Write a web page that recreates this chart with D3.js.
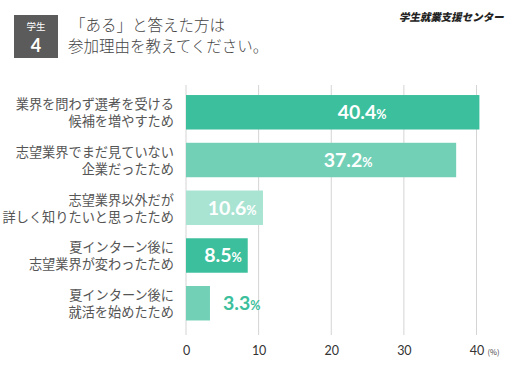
<!DOCTYPE html>
<html>
<head>
<meta charset="utf-8">
<script src="https://cdn.jsdelivr.net/npm/d3@7"></script>
<style>
  html, body { margin: 0; padding: 0; background: #fff; }
  svg { display: block; }
</style>
</head>
<body>
<div id="chart"></div>
<script>
const W = 516;
const H = 377;

// reasons (two lines each), top to bottom
const categories = [
  ["業界を問わず選考を受ける", "候補を増やすため"],
  ["志望業界でまだ見ていない", "企業だったため"],
  ["志望業界以外だが", "詳しく知りたいと思ったため"],
  ["夏インターン後に", "志望業界が変わったため"],
  ["夏インターン後に", "就活を始めたため"],
];
const values = [40.4, 37.2, 10.6, 8.5, 3.3];
const barColors = ["#3bbf9c", "#72d0b7", "#a9e4d3", "#3bbf9c", "#72d0b7"];
const xTicks = [0, 10, 20, 30, 40];

const svg = d3.select("#chart").append("svg")
  .attr("width", W)
  .attr("height", H)
  .attr("viewBox", `0 0 ${W} ${H}`);

// ── header ────────────────────────────────────────────────
svg.append("rect")
  .attr("x", 14).attr("y", 15)
  .attr("width", 44).attr("height", 43)
  .attr("fill", "#5b5b5b");
svg.append("text")
  .attr("x", 36).attr("y", 30)
  .attr("text-anchor", "middle")
  .attr("font-family", "'Noto Sans CJK JP', sans-serif")
  .attr("font-size", 9.5)
  .attr("fill", "#fff")
  .text("学生");
svg.append("text")
  .attr("x", 36).attr("y", 52)
  .attr("text-anchor", "middle")
  .attr("font-family", "Lato, 'Noto Sans', sans-serif")
  .attr("font-weight", 700)
  .attr("font-size", 18)
  .attr("fill", "#fff")
  .text("4");

const title = svg.append("text")
  .attr("font-family", "'Noto Sans CJK JP', sans-serif")
  .attr("font-size", 15.5)
  .attr("font-weight", 300)
  .attr("fill", "#444");
title.append("tspan").attr("x", 70).attr("y", 31).text("「ある」と答えた方は");
title.append("tspan").attr("x", 68).attr("y", 52).text("参加理由を教えてください。");

svg.append("text")
  .attr("x", 504).attr("y", 21)
  .attr("text-anchor", "end")
  .attr("font-family", "'Noto Sans CJK JP', sans-serif")
  .attr("font-size", 10.5)
  .attr("font-weight", 900)
  .attr("fill", "#222")
  .attr("transform", "skewX(-12) translate(4.3,0)")
  .text("学生就業支援センター");

// ── scales ────────────────────────────────────────────────
const x = d3.scaleLinear().domain([0, 40]).range([186, 476.5]);
const y = d3.scaleBand()
  .domain(d3.range(values.length))
  .range([88.4, 327.1])
  .paddingInner(0.278)
  .paddingOuter(0.139);

// gridlines
svg.append("g")
  .selectAll("line")
  .data(xTicks)
  .join("line")
  .attr("x1", (d) => x(d)).attr("x2", (d) => x(d))
  .attr("y1", 85).attr("y2", 335)
  .attr("stroke", "#d4d4d4")
  .attr("stroke-width", 1);

// x axis labels
const axis = svg.append("g")
  .attr("transform", "translate(0,355)")
  .call(d3.axisBottom(x).tickValues(xTicks).tickSize(0).tickPadding(0));
axis.select(".domain").remove();
axis.selectAll("text")
  .attr("dy", 0)
  .attr("font-family", "Lato, 'Noto Sans', sans-serif")
  .attr("font-size", 12.5)
  .attr("fill", "#333");
svg.append("text")
  .attr("x", x(40) + 11).attr("y", 355)
  .attr("font-family", "'Noto Sans CJK JP', sans-serif")
  .attr("font-size", 7.5)
  .attr("fill", "#444")
  .text("(%)");

// bars
svg.append("g")
  .selectAll("rect")
  .data(values)
  .join("rect")
  .attr("x", x(0))
  .attr("y", (d, i) => y(i))
  .attr("width", (d) => x(d) - x(0))
  .attr("height", y.bandwidth())
  .attr("fill", (d, i) => barColors[i]);

// value labels
const labels = svg.append("g")
  .selectAll("text")
  .data(values)
  .join("text")
  .attr("x", (d) => d < 5 ? x(d) + 13 : x(d * 0.6))
  .attr("y", (d, i) => y(i) + y.bandwidth() / 2 + 7)
  .attr("text-anchor", (d) => d < 5 ? "start" : "middle")
  .attr("font-family", "Lato, 'Noto Sans', sans-serif")
  .attr("font-weight", 700)
  .attr("font-size", 19.5)
  .attr("fill", (d, i) => d < 5 ? barColors[0] : "#fff");
labels.append("tspan").text((d) => d.toFixed(1));
labels.append("tspan").attr("font-size", 12.5).text("%");

// category labels
const cat = svg.append("g")
  .selectAll("text")
  .data(categories)
  .join("text")
  .attr("text-anchor", "end")
  .attr("font-family", "'Noto Sans CJK JP', sans-serif")
  .attr("font-size", 13.2)
  .attr("fill", "#555");
cat.append("tspan")
  .attr("x", 174)
  .attr("y", (d, i) => y(i) + y.bandwidth() / 2 - 3)
  .text((d) => d[0]);
cat.append("tspan")
  .attr("x", 174)
  .attr("y", (d, i) => y(i) + y.bandwidth() / 2 + 14)
  .text((d) => d[1]);
</script>
</body>
</html>
